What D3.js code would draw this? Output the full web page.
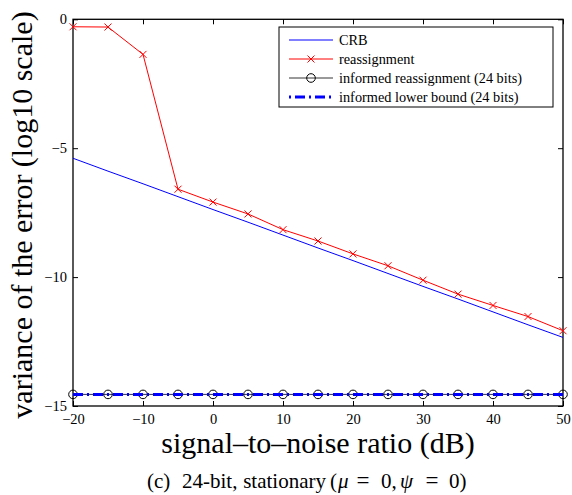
<!DOCTYPE html>
<html lang="en">
<head>
<meta charset="UTF-8">
<title>variance vs SNR</title>
<script src="https://d3js.org/d3.v7.min.js"></script>
<style>
  body { margin: 0; background: #fff; }
  svg { font-family: "Liberation Serif", "Times New Roman", serif; }
</style>
</head>
<body>
<div id="chart"></div>
<script>
// data
var snr = [-20, -15, -10, -5, 0, 5, 10, 15, 20, 25, 30, 35, 40, 45, 50];
var crb = [-5.39, -5.89, -6.38, -6.88, -7.38, -7.87, -8.37, -8.87, -9.36, -9.86, -10.36, -10.85, -11.35, -11.85, -12.34];
var reassignment = [-0.29, -0.30, -1.36, -6.59, -7.09, -7.55, -8.16, -8.60, -9.10, -9.56, -10.12, -10.66, -11.10, -11.53, -12.08];
var informedReassign = [-14.55, -14.55, -14.55, -14.55, -14.55, -14.55, -14.55, -14.55, -14.55, -14.55, -14.55, -14.55, -14.55, -14.55, -14.55];
var informedBound = [-14.55, -14.55, -14.55, -14.55, -14.55, -14.55, -14.55, -14.55, -14.55, -14.55, -14.55, -14.55, -14.55, -14.55, -14.55];
var xTicks = [-20, -10, 0, 10, 20, 30, 40, 50];
var yTicks = [0, -5, -10, -15];
var legendLabels = ["CRB", "reassignment", "informed reassignment (24 bits)", "informed lower bound (24 bits)"];

var W = 572, H = 495;
var pL = 73, pR = 563, pT = 19.3, pB = 406;

var svg = d3.select("#chart").append("svg")
    .attr("width", W)
    .attr("height", H);

var x = d3.scaleLinear().domain([-20, 50]).range([pL, pR]);
var y = d3.scaleLinear().domain([-15, 0]).range([pB, pT]);

var fmt = function(d) { return d < 0 ? "\u2212" + Math.abs(d) : "" + d; };

// axes with inward ticks on all four sides
svg.append("g")
    .attr("transform", "translate(0," + pB + ")")
    .call(d3.axisBottom(x).tickValues(xTicks).tickSizeInner(-5).tickSizeOuter(0).tickPadding(8).tickFormat(fmt))
    .call(g => g.select(".domain").remove())
    .call(g => g.selectAll("text").attr("font-size", 14.5).attr("font-family", "Liberation Serif"));

svg.append("g")
    .attr("transform", "translate(0," + pT + ")")
    .call(d3.axisTop(x).tickValues(xTicks).tickSizeInner(-5).tickSizeOuter(0).tickFormat(""))
    .call(g => g.select(".domain").remove());

svg.append("g")
    .attr("transform", "translate(" + pL + ",0)")
    .call(d3.axisLeft(y).tickValues(yTicks).tickSizeInner(-5).tickSizeOuter(0).tickPadding(6).tickFormat(fmt))
    .call(g => g.select(".domain").remove())
    .call(g => g.selectAll("text").attr("font-size", 14.5).attr("font-family", "Liberation Serif"));

svg.append("g")
    .attr("transform", "translate(" + pR + ",0)")
    .call(d3.axisRight(y).tickValues(yTicks).tickSizeInner(-5).tickSizeOuter(0).tickFormat(""))
    .call(g => g.select(".domain").remove());

svg.append("rect")
    .attr("x", pL).attr("y", pT)
    .attr("width", pR - pL).attr("height", pB - pT)
    .attr("fill", "none").attr("stroke", "#000").attr("stroke-width", 1.3);

var line = d3.line().x((d, i) => x(snr[i])).y(d => y(d));

// CRB
svg.append("path").datum(crb)
    .attr("d", line).attr("fill", "none").attr("stroke", "#0000ff").attr("stroke-width", 1);

// reassignment
svg.append("path").datum(reassignment)
    .attr("d", line).attr("fill", "none").attr("stroke", "#ff0000").attr("stroke-width", 1);

function cross(g, cx, cy, s) {
    g.append("path")
        .attr("d", "M" + (cx - s) + "," + (cy - s) + "L" + (cx + s) + "," + (cy + s) +
                   "M" + (cx - s) + "," + (cy + s) + "L" + (cx + s) + "," + (cy - s))
        .attr("stroke", "#ff0000").attr("stroke-width", 1).attr("fill", "none");
}
var marks = svg.append("g");
reassignment.forEach((d, i) => cross(marks, x(snr[i]), y(d), 3.5));

// informed reassignment
svg.append("path").datum(informedReassign)
    .attr("d", line).attr("fill", "none").attr("stroke", "#000").attr("stroke-width", 0.8);
svg.append("g").selectAll("circle")
    .data(informedReassign)
    .enter().append("circle")
    .attr("cx", (d, i) => x(snr[i]))
    .attr("cy", d => y(d))
    .attr("r", 4.3)
    .attr("fill", "none").attr("stroke", "#000").attr("stroke-width", 1);

// informed lower bound
svg.append("path").datum(informedBound)
    .attr("d", line).attr("fill", "none").attr("stroke", "#0000ff")
    .attr("stroke-width", 3).attr("stroke-dasharray", "10,4,2,4");

// legend
var lg = svg.append("g");
lg.append("rect")
    .attr("x", 279).attr("y", 27).attr("width", 274).attr("height", 80)
    .attr("fill", "#fff").attr("stroke", "#000").attr("stroke-width", 1);
var rowY = [40, 59, 78, 97];
legendLabels.forEach(function(t, i) {
    var yy = rowY[i];
    var l = lg.append("line").attr("x1", 289).attr("x2", 333).attr("y1", yy).attr("y2", yy);
    if (i === 0) l.attr("stroke", "#0000ff").attr("stroke-width", 1);
    if (i === 1) { l.attr("stroke", "#ff0000").attr("stroke-width", 1); cross(lg, 311, yy, 3.5); }
    if (i === 2) {
        l.attr("stroke", "#000").attr("stroke-width", 0.8);
        lg.append("circle").attr("cx", 311).attr("cy", yy).attr("r", 4.3)
            .attr("fill", "none").attr("stroke", "#000");
    }
    if (i === 3) l.attr("stroke", "#0000ff").attr("stroke-width", 3).attr("stroke-dasharray", "2,4,10,4");
    lg.append("text").attr("x", 339).attr("y", yy + 4.8)
        .attr("font-size", 14.3).text(t);
});

// axis titles
svg.append("text")
    .attr("transform", "translate(32,215) rotate(-90)")
    .attr("text-anchor", "middle")
    .attr("font-size", 30)
    .text("variance of the error (log10 scale)");

svg.append("text")
    .attr("x", 318).attr("y", 453)
    .attr("text-anchor", "middle")
    .attr("font-size", 30)
    .text("signal\u2013to\u2013noise ratio (dB)");

// caption, pieces laid out like the LaTeX spacing
var capY = 488, capSize = 21;
var capParts = [
    {t: "(c)", x: 147, a: "start"},
    {t: "24-bit,", x: 182, a: "start"},
    {t: "stationary", x: 326, a: "end"},
    {t: "(", x: 330, a: "start"},
    {t: "\u03bc", x: 338, a: "start", it: true},
    {t: "=", x: 363, a: "middle", s: 23},
    {t: "0,", x: 381, a: "start"},
    {t: "\u03c8", x: 400, a: "start", it: true},
    {t: "=", x: 432, a: "middle", s: 23},
    {t: "0)", x: 449, a: "start"}
];
capParts.forEach(function(p) {
    svg.append("text")
        .attr("x", p.x).attr("y", capY)
        .attr("text-anchor", p.a)
        .attr("font-size", p.s || capSize)
        .attr("font-style", p.it ? "italic" : null)
        .text(p.t);
});
</script>
</body>
</html>
